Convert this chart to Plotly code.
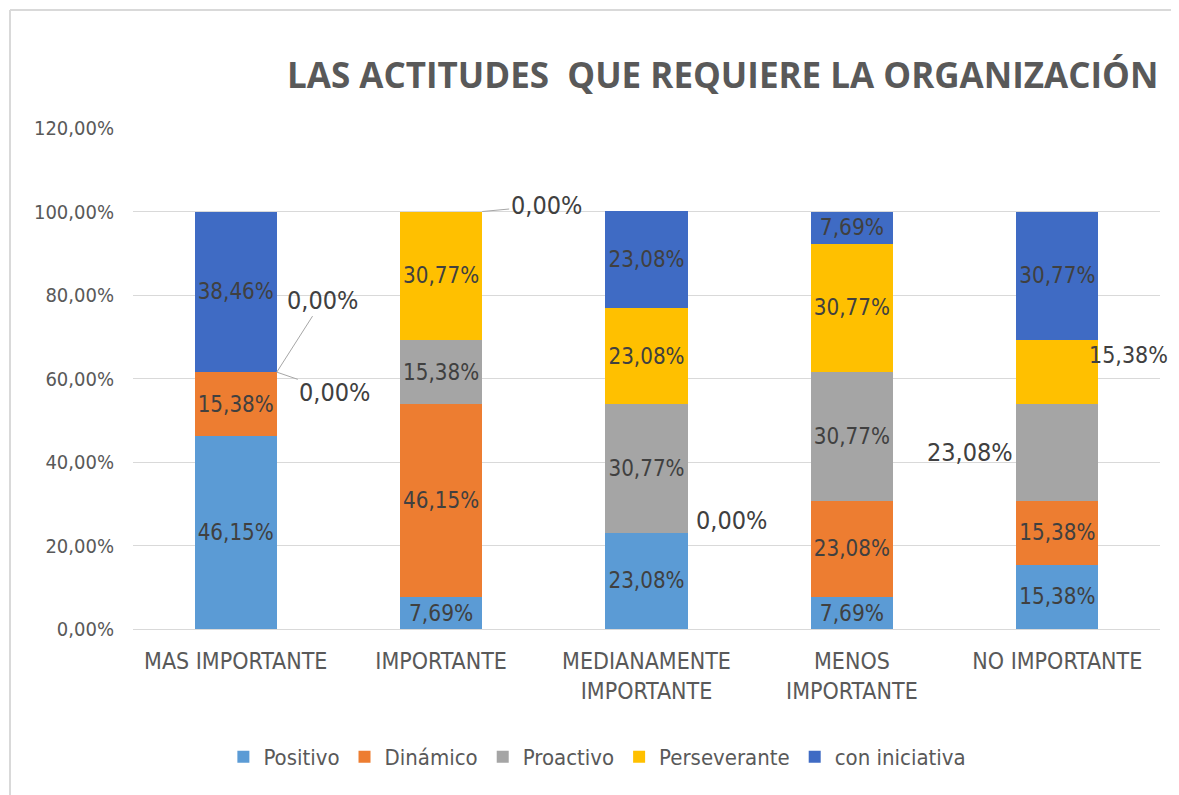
import plotly.graph_objects as go

# categories and series (percent)
categorias = ["MAS IMPORTANTE", "IMPORTANTE", "MEDIANAMENTE<br>IMPORTANTE",
              "MENOS<br>IMPORTANTE", "NO IMPORTANTE"]
positivo = [46.15, 7.69, 23.08, 7.69, 15.38]
dinamico = [15.38, 46.15, 0.00, 23.08, 15.38]
proactivo = [0.00, 15.38, 30.77, 30.77, 23.08]
perseverante = [0.00, 30.77, 23.08, 30.77, 15.38]
iniciativa = [38.46, 0.00, 23.08, 7.69, 30.77]

series = [
    ("Positivo", positivo, "#5B9BD5"),
    ("Dinámico", dinamico, "#ED7D31"),
    ("Proactivo", proactivo, "#A5A5A5"),
    ("Perseverante", perseverante, "#FFC000"),
    ("con iniciativa", iniciativa, "#3F6BC4"),
]

FONT = "Liberation Sans Narrow, DejaVu Sans Condensed, Roboto, sans-serif"
GRIS = "#595959"
TXT = "#404040"

# page has an 8px body margin, so the figure sits 8px right/down
L, T, PW, PH = 125, 120, 1027, 501


def fmt(v):
    return f"{v:.2f}".replace(".", ",") + "%"


# labels drawn outside the bars (zero values and the crowded ones)
fuera = {(0, 2), (0, 3), (1, 4), (2, 1), (4, 2), (4, 3)}

fig = go.Figure()
for s, (nombre, vals, color) in enumerate(series):
    textos = ["" if (i, s) in fuera else fmt(v) for i, v in enumerate(vals)]
    fig.add_trace(go.Bar(
        name=nombre, x=categorias, y=vals, marker_color=color,
        marker_line_width=0, text=textos, textposition="inside",
        insidetextanchor="middle", textangle=0,
        textfont=dict(family=FONT, size=25, color=TXT),
        cliponaxis=False,
    ))


def base(i, s):
    return sum(series[k][1][i] for k in range(s))


def outside(i, s, dx, dy, flecha=True, xanchor="center", xoff=0.0, mid=False,
            size=25):
    v = series[s][1][i]
    y = base(i, s) + (v / 2 if mid else 0)
    if flecha:
        fig.add_annotation(x=i + xoff, y=y, text=fmt(v), showarrow=True,
                           arrowhead=0, arrowwidth=1, arrowcolor="#A6A6A6",
                           ax=dx, ay=dy, standoff=0,
                           font=dict(family=FONT, size=size, color=TXT))
    else:
        fig.add_annotation(x=i + xoff, y=y, text=fmt(v), showarrow=False,
                           xanchor=xanchor, xshift=dx, yshift=dy,
                           font=dict(family=FONT, size=size, color=TXT))


outside(0, 2, 46, -72, xoff=0.2)
outside(0, 3, 58, 20, xoff=0.2)
outside(1, 4, 64, -6, xoff=0.2)
outside(2, 1, 44, 12, flecha=False, xoff=0.2)
outside(4, 2, -1, 0, flecha=False, xanchor="right", xoff=-0.2, mid=True)
outside(4, 3, -11, 17, flecha=False, xanchor="left", xoff=0.2, mid=True, size=23)

fig.add_annotation(
    xref="paper", yref="paper", x=(277 - L) / PW, y=(T + PH - 66) / PH,
    xanchor="left", yanchor="middle", showarrow=False,
    text="<b>LAS ACTITUDES\u00a0 QUE REQUIERE LA ORGANIZACIÓN</b>",
    font=dict(family="Open Sans, sans-serif", size=35, color=GRIS),
)

# frame (left and top edges)
fx = (2 - L) / PW
fy = (T + PH - 2) / PH
fig.add_shape(type="line", xref="paper", yref="paper", x0=fx, x1=1.2,
              y0=fy, y1=fy, line=dict(color="#D9D9D9", width=2))
fig.add_shape(type="line", xref="paper", yref="paper", x0=fx, x1=fx,
              y0=fy, y1=-0.5, line=dict(color="#D9D9D9", width=2))

fig.update_layout(
    width=1179, height=795,
    margin=dict(l=L, r=1179 - L - PW, t=T, b=795 - T - PH),
    barmode="stack", bargap=0.6,
    separators=",.",
    plot_bgcolor="white", paper_bgcolor="white",
    font=dict(family=FONT, color=GRIS),
    showlegend=True,
    legend=dict(orientation="h", x=0.088, y=(T + PH - 749) / PH, xanchor="left",
                yanchor="middle", font=dict(family=FONT, size=22, color=GRIS),
                itemwidth=30, traceorder="normal"),
    xaxis=dict(range=[-0.5, 4.5], autorange=False,
               tickfont=dict(family=FONT, size=23, color=GRIS),
               showline=False, ticks="", ticklabelstandoff=16),
    yaxis=dict(range=[0, 120], autorange=False, dtick=20, tickformat=".2f",
               ticksuffix="%", gridcolor="#D9D9D9", gridwidth=1, zeroline=True,
               zerolinecolor="#D9D9D9", zerolinewidth=1,
               tickfont=dict(family=FONT, size=20, color=GRIS),
               ticklabelstandoff=18),
)

fig.write_html("out.html")
